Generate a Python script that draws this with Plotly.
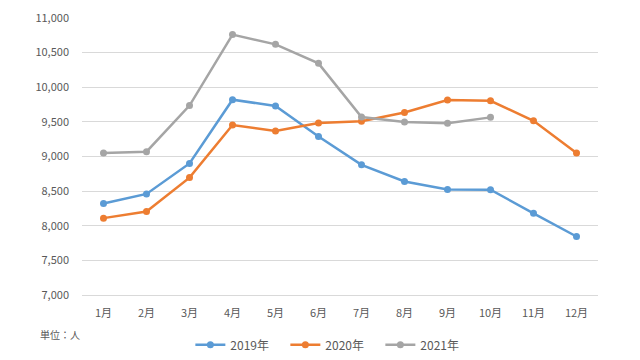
import plotly.graph_objects as go

months = ["1月", "2月", "3月", "4月", "5月", "6月", "7月", "8月", "9月", "10月", "11月", "12月"]
v2019 = [8320, 8460, 8900, 9820, 9730, 9290, 8880, 8640, 8525, 8520, 8180, 7845]
v2020 = [8110, 8205, 8695, 9455, 9370, 9485, 9510, 9635, 9815, 9805, 9515, 9050]
v2021 = [9050, 9070, 9735, 10760, 10620, 10345, 9570, 9500, 9480, 9565]
series_names = ["2019年", "2020年", "2021年"]
colors = ["#5B9BD5", "#ED7D31", "#A5A5A5"]
y_ticks = [7000, 7500, 8000, 8500, 9000, 9500, 10000, 10500, 11000]

font_family = "Noto Sans CJK JP, Noto Sans, sans-serif"
fig = go.Figure()
for name, vals, c in zip(series_names, [v2019, v2020, v2021], colors):
    fig.add_trace(go.Scatter(
        x=months[:len(vals)], y=vals, name=name, mode="lines+markers",
        line=dict(color=c, width=2.5), marker=dict(color=c, size=7),
    ))

fig.update_layout(
    width=640, height=360,
    margin=dict(l=74, r=50, t=10, b=73, autoexpand=False),
    paper_bgcolor="white", plot_bgcolor="white",
    font=dict(family=font_family, size=11, color="#595959"),
    showlegend=True,
    legend=dict(orientation="h", x=0.21, xanchor="left", y=-0.18, yanchor="middle",
                font=dict(size=12, color="#595959"), itemwidth=30, tracegroupgap=0,
                entrywidth=50, entrywidthmode="pixels"),
    xaxis=dict(type="category", categoryorder="array", categoryarray=months,
               range=[-0.5, 11.5], showgrid=False, showline=True, linecolor="#D9D9D9",
               ticks="", ticklabelstandoff=8, tickfont=dict(size=11, color="#595959")),
    yaxis=dict(range=[7000, 11000], tickvals=y_ticks,
               ticktext=[f"{v:,}" for v in y_ticks], showgrid=True,
               gridcolor="#D9D9D9", gridwidth=1, zeroline=False, showline=False,
               ticks="", ticklabelstandoff=12, tickfont=dict(size=11, color="#595959")),
)
fig.add_annotation(text="単位：人", xref="paper", yref="paper", x=-0.085, y=-0.144,
                   xanchor="left", yanchor="middle", showarrow=False,
                   font=dict(size=10, color="#595959"))
fig.write_html("out.html")
